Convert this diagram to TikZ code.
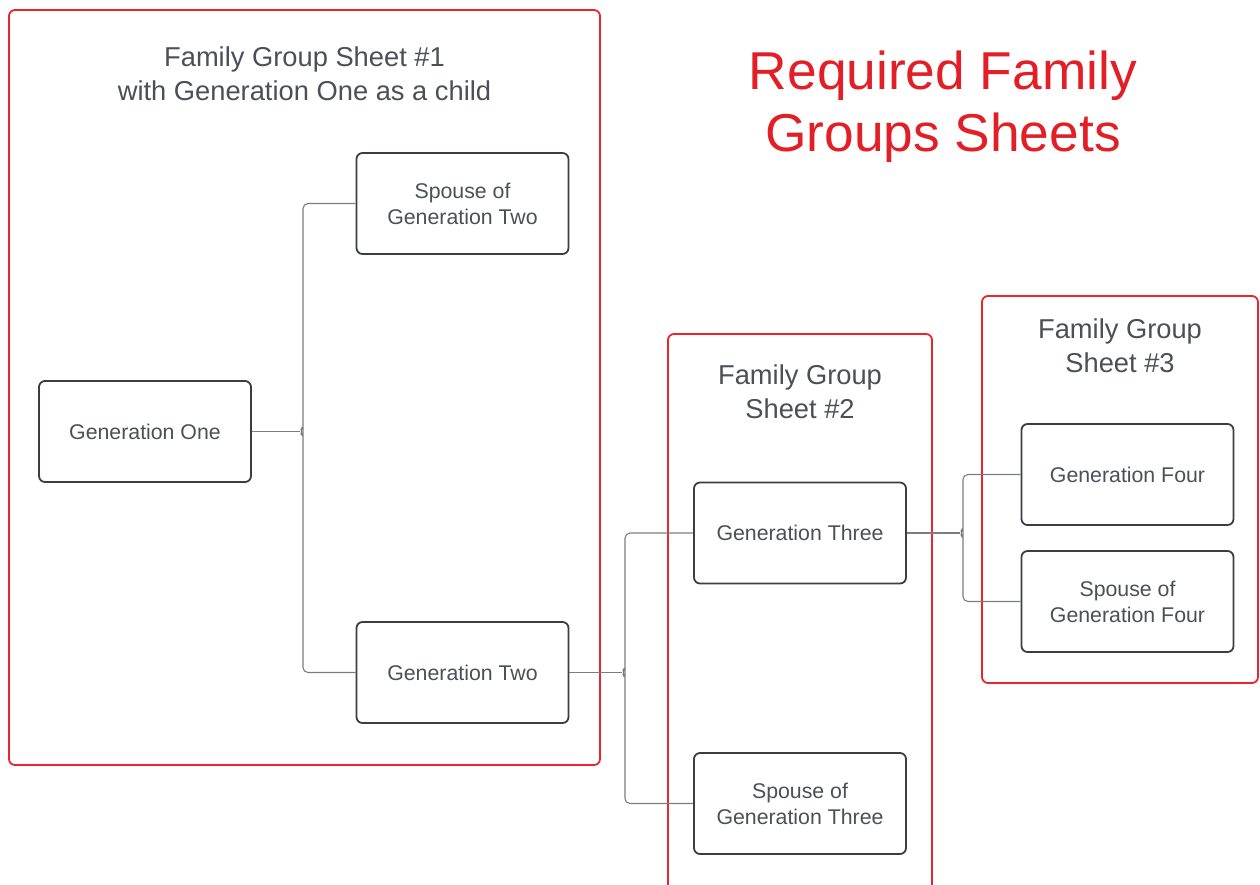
\documentclass[tikz,border=0pt]{standalone}
\usepackage{fontspec}
\setmainfont{Liberation Sans}
\definecolor{txtgray}{HTML}{4A4F58}
\definecolor{boxgray}{HTML}{3A3D44}
\definecolor{linegray}{HTML}{7A7D82}
\definecolor{sheetred}{HTML}{E8262B}
\definecolor{titlered}{HTML}{E21F26}
\tikzset{
  person/.style={draw=boxgray, line width=1.8pt, rounded corners=6pt, minimum width=212pt, minimum height=101pt, align=center, text=txtgray, font=\fontsize{21.3}{26}\selectfont, inner sep=0pt},
  sheet/.style={draw=sheetred, line width=1.8pt, rounded corners=6pt},
  sheettitle/.style={align=center, text=txtgray, font=\fontsize{27.3}{34}\selectfont, inner sep=0pt},
  conn/.style={draw=linegray, line width=1.1pt, rounded corners=5pt}
}
\begin{document}
\begin{tikzpicture}[x=1pt,y=-1pt]
\useasboundingbox (0,0) rectangle (1260,884);
\clip (0,0) rectangle (1260,884);
% sheets
\draw[sheet] (9,10) rectangle (600,765);
\draw[sheet] (668,334) rectangle (932,920);
\draw[sheet] (982,296) rectangle (1258,683);
\node[sheettitle] (t1) at (304.5,74) {Family Group Sheet \#1\\with Generation One as a child};
\node[sheettitle] (t2) at (800,392) {Family Group\\Sheet \#2};
\node[sheettitle] (t3) at (1120,346) {Family Group\\Sheet \#3};
\node[align=center, text=titlered, font=\fontsize{53.3}{62}\selectfont, inner sep=0pt] (req) at (943,107) {Required Family\\Groups Sheets};
% persons
\node[person] (g1) at (145,431.5) {Generation One};
\node[person] (s2) at (462.5,203.5) {Spouse of\\Generation Two};
\node[person] (g2) at (462.5,672.5) {Generation Two};
\node[person] (g3) at (800,533) {Generation Three};
\node[person] (s3) at (800,803.5) {Spouse of\\Generation Three};
\node[person] (g4) at (1127.5,474.5) {Generation Four};
\node[person] (s4) at (1127.5,601.5) {Spouse of\\Generation Four};
% connectors
\coordinate (j1) at (303,431.5);
\coordinate (j2) at (625,672.5);
\coordinate (j3) at (963,533);
\foreach \p/\t/\b/\j in {g1/s2/g2/j1, g2/g3/s3/j2, g3/g4/s4/j3}{
  \draw[conn] (\p.east) -- ([xshift=-3pt]\j);
  \draw[conn] (\t.west) -| ([yshift=-6pt]\j) -- ([xshift=-3pt]\j) -- ([yshift=6pt]\j) |- (\b.west);
}
\end{tikzpicture}
\end{document}
